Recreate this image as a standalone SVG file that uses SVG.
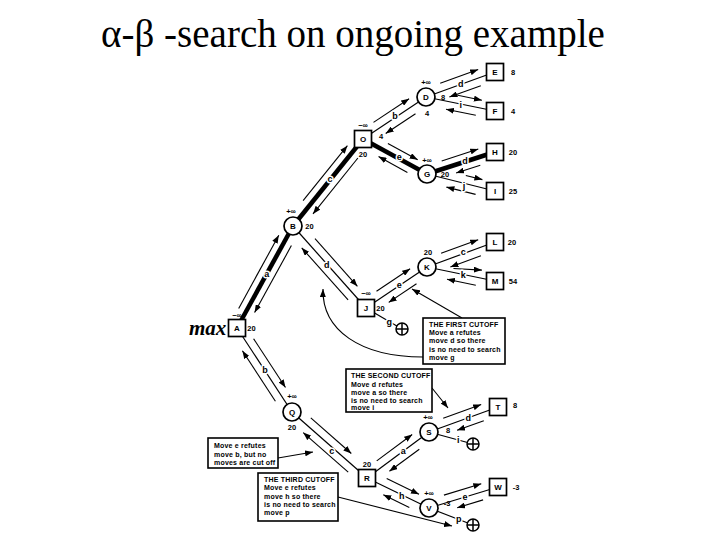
<svg xmlns="http://www.w3.org/2000/svg" width="720" height="540" viewBox="0 0 720 540">
<defs>
<marker id="ah" viewBox="0 0 8 6" refX="8" refY="3" markerWidth="8" markerHeight="6" markerUnits="userSpaceOnUse" orient="auto"><path d="M0,0 L8,3 L0,6 z" fill="#000"/></marker>
<style>
.title{font-family:"Liberation Serif","DejaVu Serif",serif;font-size:39px;text-anchor:middle;fill:#000}
.hand{font-family:"Liberation Serif","DejaVu Serif",serif;font-size:21px;font-style:italic;font-weight:bold;fill:#000}
.edge{stroke:#000;stroke-width:1.2;fill:none}
.pv{stroke:#000;stroke-width:4.5;fill:none}
.arr{stroke:#000;stroke-width:1.1;fill:none;marker-end:url(#ah)}
.sq{fill:#fff;stroke:#000;stroke-width:1.7}
.ci{fill:#fff;stroke:#000;stroke-width:1.7}
.nl{font-family:"Liberation Sans",Arial,sans-serif;font-weight:bold;font-size:8px;text-anchor:middle;dominant-baseline:central;fill:#000}
.val{font-family:"Liberation Sans",Arial,sans-serif;font-weight:bold;font-size:7.5px;text-anchor:middle;dominant-baseline:central;fill:#000}
.el{font-family:"Liberation Sans",Arial,sans-serif;font-weight:bold;font-size:9px;text-anchor:middle;dominant-baseline:central;paint-order:stroke;stroke:#fff;stroke-width:3;stroke-linejoin:round;fill:#000}
.box{fill:#fff;stroke:#000;stroke-width:1.6}
.bt{font-family:"Liberation Sans",Arial,sans-serif;font-weight:bold;font-size:7px;letter-spacing:0.2px;fill:#000}
.cut{fill:#fff;stroke:#000;stroke-width:1.5}
.cx{stroke:#000;stroke-width:1.5}
</style>
</defs>
<rect width="720" height="540" fill="#fff"/>
<text class="title" x="353" y="47">α-β -search on ongoing example</text>
<text class="hand" x="189" y="335">max</text>

<g id="connectors">
  <path class="pv" d="M237,328 L293,226"/>
  <path class="pv" d="M293,226 L363,139"/>
  <path class="pv" d="M363,139 L427,174"/>
  <path class="pv" d="M427,174 L495,152"/>
  <path class="edge" d="M363,139 L426,97"/>
  <path class="edge" d="M426,97 L495,72"/>
  <path class="edge" d="M426,97 L495,111"/>
  <path class="edge" d="M427,174 L495,191"/>
  <path class="edge" d="M293,226 L366,308"/>
  <path class="edge" d="M366,308 L427,267"/>
  <path class="edge" d="M427,267 L495,242"/>
  <path class="edge" d="M427,267 L495,281"/>
  <path class="edge" d="M237,328 L292,412"/>
  <path class="edge" d="M292,412 L367,478"/>
  <path class="edge" d="M367,478 L429,432"/>
  <path class="edge" d="M429,432 L498,407"/>
  <path class="edge" d="M367,478 L429,508"/>
  <path class="edge" d="M429,508 L498,487"/>
  <path class="edge" d="M366,308 L402,329"/>
  <path class="edge" d="M429,432 L473,444"/>
  <path class="edge" d="M429,508 L473,525"/>
  <path class="arr" d="M238.7,308.4 L278.8,235.3"/>
  <path class="arr" d="M291.4,245.6 L254.6,312.6"/>
  <path class="arr" d="M303.1,200.7 L347.4,145.7"/>
  <path class="arr" d="M357.9,158.0 L313.0,213.9"/>
  <path class="arr" d="M373.5,122.4 L409.1,98.7"/>
  <path class="arr" d="M415.5,113.7 L385.7,133.5"/>
  <path class="arr" d="M440.2,83.3 L478.2,69.6"/>
  <path class="arr" d="M480.8,85.7 L449.4,97.0"/>
  <path class="arr" d="M454.1,94.5 L481.9,100.2"/>
  <path class="arr" d="M475.8,115.3 L446.0,109.2"/>
  <path class="arr" d="M387.9,143.5 L417.7,159.8"/>
  <path class="arr" d="M407.4,172.4 L378.5,156.6"/>
  <path class="arr" d="M441.7,160.9 L478.3,149.0"/>
  <path class="arr" d="M480.3,165.2 L456.1,173.0"/>
  <path class="arr" d="M465.8,175.5 L482.4,179.6"/>
  <path class="arr" d="M475.6,194.4 L446.4,187.1"/>
  <path class="arr" d="M315.0,238.6 L357.4,286.3"/>
  <path class="arr" d="M348.1,299.9 L301.7,247.8"/>
  <path class="arr" d="M376.5,291.3 L410.1,268.7"/>
  <path class="arr" d="M416.5,283.7 L388.7,302.4"/>
  <path class="arr" d="M441.1,253.3 L478.2,239.7"/>
  <path class="arr" d="M480.9,255.7 L450.4,266.9"/>
  <path class="arr" d="M453.5,268.5 L481.9,270.1"/>
  <path class="arr" d="M475.8,285.2 L447.0,279.3"/>
  <path class="arr" d="M253.6,338.7 L285.5,387.5"/>
  <path class="arr" d="M275.4,401.3 L242.4,350.8"/>
  <path class="arr" d="M310.8,417.9 L351.3,453.5"/>
  <path class="arr" d="M348.2,472.1 L303.2,432.6"/>
  <path class="arr" d="M376.7,460.9 L412.2,434.5"/>
  <path class="arr" d="M419.3,449.2 L389.4,471.3"/>
  <path class="arr" d="M443.2,418.3 L481.2,404.6"/>
  <path class="arr" d="M483.8,420.7 L457.1,430.3"/>
  <path class="arr" d="M386.7,478.6 L419.0,494.3"/>
  <path class="arr" d="M409.3,507.4 L383.3,494.8"/>
  <path class="arr" d="M443.9,495.1 L481.3,483.7"/>
  <path class="arr" d="M483.1,499.9 L457.2,507.8"/>
  <path class="arr" d="M462,318 L412,289"/>
  <path class="arr" d="M423,357 C360,357 322,330 323,289"/>
  <path class="arr" d="M432,388 L448,408"/>
  <path class="arr" d="M278,458 L313,452"/>
  <path class="arr" d="M338,497 L452,526"/>
  <text class="el" x="266.7" y="274">a</text>
  <text class="el" x="330" y="179">c</text>
  <text class="el" x="395" y="115.5">b</text>
  <text class="el" x="460.7" y="84">d</text>
  <text class="el" x="460.7" y="104.5">i</text>
  <text class="el" x="399.3" y="156.5">e</text>
  <text class="el" x="465" y="161">d</text>
  <text class="el" x="464" y="186">j</text>
  <text class="el" x="326.7" y="265">d</text>
  <text class="el" x="399.3" y="285">e</text>
  <text class="el" x="463.3" y="252">c</text>
  <text class="el" x="463.3" y="275">k</text>
  <text class="el" x="265" y="370">b</text>
  <text class="el" x="331.7" y="451">c</text>
  <text class="el" x="403.3" y="451">a</text>
  <text class="el" x="468.3" y="418">d</text>
  <text class="el" x="401.7" y="495.5">h</text>
  <text class="el" x="465" y="497">e</text>
  <text class="el" x="389.3" y="321.5">g</text>
  <text class="el" x="458.3" y="440">i</text>
  <text class="el" x="458.7" y="519">p</text>
</g>

<g id="cutoff-g"><circle class="cut" cx="402" cy="329" r="6"/><path class="cx" d="M396,329 H408 M402,323 V335"/></g>
<g id="cutoff-i"><circle class="cut" cx="473" cy="444" r="6"/><path class="cx" d="M467,444 H479 M473,438 V450"/></g>
<g id="cutoff-p"><circle class="cut" cx="473" cy="525" r="6"/><path class="cx" d="M467,525 H479 M473,519 V531"/></g>

<g id="node-A"><rect class="sq" x="228.5" y="319.5" width="17" height="17"/><text class="nl" x="237" y="328">A</text><text class="val" x="237" y="315">−∞</text><text class="val" x="251.5" y="328">20</text></g>
<g id="node-B"><circle class="ci" cx="293" cy="226" r="9"/><text class="nl" x="293" y="226">B</text><text class="val" x="291" y="211">+∞</text><text class="val" x="309.5" y="226">20</text></g>
<g id="node-O"><rect class="sq" x="354.5" y="130.5" width="17" height="17"/><text class="nl" x="363" y="139">O</text><text class="val" x="363" y="125">−∞</text><text class="val" x="381" y="136.5">4</text><text class="val" x="363" y="154">20</text></g>
<g id="node-D"><circle class="ci" cx="426" cy="97" r="9"/><text class="nl" x="426" y="97">D</text><text class="val" x="426" y="82">+∞</text><text class="val" x="443" y="97">8</text><text class="val" x="427" y="113">4</text></g>
<g id="node-E"><rect class="sq" x="486.5" y="63.5" width="17" height="17"/><text class="nl" x="495" y="72">E</text><text class="val" x="513" y="72">8</text></g>
<g id="node-F"><rect class="sq" x="486.5" y="102.5" width="17" height="17"/><text class="nl" x="495" y="111">F</text><text class="val" x="513" y="111">4</text></g>
<g id="node-G"><circle class="ci" cx="427" cy="174" r="9"/><text class="nl" x="427" y="174">G</text><text class="val" x="427" y="160">+∞</text><text class="val" x="445" y="174">20</text></g>
<g id="node-H"><rect class="sq" x="486.5" y="143.5" width="17" height="17"/><text class="nl" x="495" y="152">H</text><text class="val" x="513" y="152">20</text></g>
<g id="node-I"><rect class="sq" x="486.5" y="182.5" width="17" height="17"/><text class="nl" x="495" y="191">I</text><text class="val" x="513" y="191">25</text></g>
<g id="node-J"><rect class="sq" x="357.5" y="299.5" width="17" height="17"/><text class="nl" x="366" y="308">J</text><text class="val" x="366" y="293">−∞</text><text class="val" x="380.5" y="308">20</text></g>
<g id="node-K"><circle class="ci" cx="427" cy="267" r="9"/><text class="nl" x="427" y="267">K</text><text class="val" x="428" y="252">20</text></g>
<g id="node-L"><rect class="sq" x="486.5" y="233.5" width="17" height="17"/><text class="nl" x="495" y="242">L</text><text class="val" x="512" y="242">20</text></g>
<g id="node-M"><rect class="sq" x="486.5" y="272.5" width="17" height="17"/><text class="nl" x="495" y="281">M</text><text class="val" x="513" y="281">54</text></g>
<g id="node-Q"><circle class="ci" cx="292" cy="412" r="9"/><text class="nl" x="292" y="412">Q</text><text class="val" x="292" y="396">+∞</text><text class="val" x="292" y="427">20</text></g>
<g id="node-R"><rect class="sq" x="358.5" y="469.5" width="17" height="17"/><text class="nl" x="367" y="478">R</text><text class="val" x="367" y="464">20</text></g>
<g id="node-S"><circle class="ci" cx="429" cy="432" r="9"/><text class="nl" x="429" y="432">S</text><text class="val" x="428" y="417">+∞</text><text class="val" x="448" y="430">8</text></g>
<g id="node-T"><rect class="sq" x="489.5" y="398.5" width="17" height="17"/><text class="nl" x="498" y="407">T</text><text class="val" x="515" y="405">8</text></g>
<g id="node-V"><circle class="ci" cx="429" cy="508" r="9"/><text class="nl" x="429" y="508">V</text><text class="val" x="429" y="493">+∞</text><text class="val" x="447" y="503">-3</text></g>
<g id="node-W"><rect class="sq" x="489.5" y="478.5" width="17" height="17"/><text class="nl" x="498" y="487">W</text><text class="val" x="516" y="487">-3</text></g>

<g id="note-first-cutoff"><rect class="box" x="423" y="318" width="82" height="46"/>
<text class="bt" x="429" y="326.5">THE FIRST CUTOFF</text>
<text class="bt" x="429" y="335">Move a refutes</text>
<text class="bt" x="429" y="343.3">move d so there</text>
<text class="bt" x="429" y="351.6">is no need to search</text>
<text class="bt" x="429" y="359.9">move g</text></g>

<g id="note-second-cutoff"><rect class="box" x="346" y="369" width="86" height="43"/>
<text class="bt" x="351" y="378.3">THE SECOND CUTOFF</text>
<text class="bt" x="351" y="386.8">Move d refutes</text>
<text class="bt" x="351" y="395">move a so there</text>
<text class="bt" x="351" y="402.6">is no need to search</text>
<text class="bt" x="351" y="410.3">move i</text></g>

<g id="note-no-cutoff"><rect class="box" x="208" y="438" width="70" height="30"/>
<text class="bt" x="214" y="448.3">Move e refutes</text>
<text class="bt" x="214" y="456.8">move b, but no</text>
<text class="bt" x="214" y="465.3">moves are cut off</text></g>

<g id="note-third-cutoff"><rect class="box" x="258" y="473" width="80" height="48"/>
<text class="bt" x="264" y="481.6">THE THIRD CUTOFF</text>
<text class="bt" x="264" y="490.3">Move e refutes</text>
<text class="bt" x="264" y="498.6">move h so there</text>
<text class="bt" x="264" y="506.9">is no need to search</text>
<text class="bt" x="264" y="514.9">move p</text></g>
</svg>
